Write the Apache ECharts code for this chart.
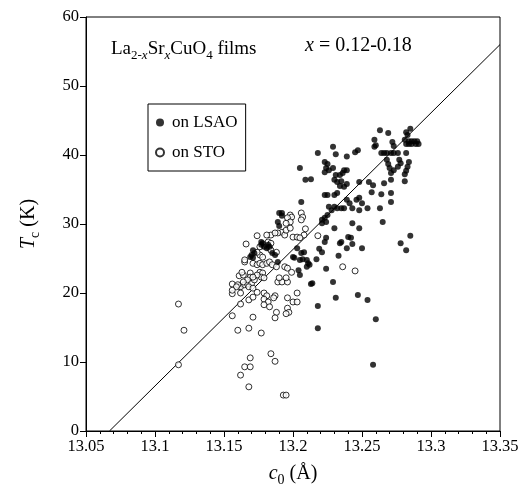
<!DOCTYPE html>
<html><head><meta charset="utf-8">
<script src="https://cdn.jsdelivr.net/npm/echarts@6/dist/echarts.min.js"></script>
<style>html,body{margin:0;padding:0;background:#fff}#c{width:522px;height:494px}</style>
</head><body><div id="c"></div>
<script>
// tick labels
var xTicks = [13.05, 13.1, 13.15, 13.2, 13.25, 13.3, 13.35];
var yTicks = [0, 10, 20, 30, 40, 50, 60];
// guide line (c0, Tc)
var fitLine = [[13.067, 0], [13.35, 56]];
// films on LSAO (c0 in Å, Tc in K)
var onLSAO = [
[13.263,43.6],[13.269,43.2],[13.282,43.3],[13.283,42.9],[13.285,43.8],[13.281,42.2],[13.284,42.0],[13.286,42.0],[13.288,42.0],[13.290,42.0],
[13.282,41.6],[13.284,41.6],[13.286,41.6],[13.289,41.6],[13.291,41.6],[13.259,42.2],[13.260,41.4],[13.272,41.9],[13.273,41.3],[13.229,41.2],
[13.231,40.1],[13.239,39.8],[13.245,40.4],[13.247,40.7],[13.259,41.2],[13.264,40.3],[13.266,40.3],[13.268,40.3],[13.271,40.3],[13.273,40.3],
[13.276,40.3],[13.282,40.3],[13.268,39.3],[13.269,38.7],[13.270,38.1],[13.271,37.4],[13.277,39.3],[13.278,38.8],[13.284,39.0],[13.283,38.3],
[13.282,37.7],[13.281,37.2],[13.276,38.3],[13.273,37.8],[13.281,36.2],[13.218,40.3],[13.205,38.1],[13.209,36.4],[13.213,36.5],[13.223,39.0],
[13.225,38.7],[13.224,38.1],[13.223,37.5],[13.226,37.8],[13.229,38.1],[13.231,37.1],[13.234,37.1],[13.236,37.4],[13.237,37.8],[13.239,37.8],
[13.230,36.4],[13.232,36.1],[13.235,36.2],[13.239,35.8],[13.234,35.5],[13.237,35.4],[13.248,36.1],[13.255,36.1],[13.258,35.6],[13.266,35.9],
[13.271,36.4],[13.257,34.6],[13.264,34.3],[13.271,34.5],[13.271,33.2],[13.223,34.2],[13.225,34.2],[13.230,34.2],[13.232,34.5],[13.239,33.5],
[13.241,33.0],[13.246,33.5],[13.248,33.8],[13.250,33.0],[13.237,32.3],[13.235,32.3],[13.232,32.3],[13.230,32.5],[13.226,32.5],[13.228,32.0],
[13.254,32.3],[13.263,32.3],[13.243,32.3],[13.248,32.0],[13.225,31.3],[13.223,30.9],[13.221,30.6],[13.265,30.3],[13.248,29.4],[13.230,29.4],
[13.221,30.1],[13.224,30.3],[13.243,30.1],[13.224,28.0],[13.223,27.4],[13.235,27.4],[13.234,27.2],[13.240,28.1],[13.242,28.0],[13.243,27.1],
[13.239,26.5],[13.250,26.5],[13.285,28.3],[13.278,27.2],[13.282,26.2],[13.206,25.8],[13.208,25.9],[13.205,24.8],[13.207,24.9],[13.210,24.8],
[13.211,24.3],[13.212,24.1],[13.210,23.8],[13.219,26.4],[13.221,25.9],[13.217,24.9],[13.233,25.4],[13.224,23.5],[13.205,22.6],[13.213,21.3],
[13.229,21.6],[13.231,19.3],[13.247,19.7],[13.254,19.0],[13.218,18.1],[13.260,16.2],[13.218,14.9],[13.258,9.6],[13.190,31.6],[13.192,31.6],
[13.192,31.2],[13.189,30.3],[13.190,29.7],[13.206,33.2],[13.177,27.4],[13.177,27.0],[13.178,27.2],[13.179,26.7],[13.181,26.5],[13.182,27.0],
[13.183,26.7],[13.171,26.2],[13.172,25.8],[13.170,25.5],[13.169,25.2],[13.171,25.1],[13.185,25.8],[13.187,25.5],[13.189,24.5],[13.200,25.2],
[13.201,25.1],[13.203,26.5],[13.204,23.3],[13.214,21.4]
];
// films on STO (c0 in Å, Tc in K)
var onSTO = [
[13.156,21.3],[13.161,21.0],[13.162,20.9],[13.165,21.2],[13.167,21.3],[13.170,21.4],[13.168,20.9],[13.171,20.7],[13.156,19.9],[13.162,20.0],
[13.168,19.0],[13.171,19.4],[13.174,20.1],[13.179,20.0],[13.181,19.6],[13.179,19.1],[13.182,18.7],[13.179,18.3],[13.183,18.0],[13.187,19.6],
[13.186,19.3],[13.189,21.6],[13.192,21.6],[13.196,21.6],[13.196,19.3],[13.200,18.7],[13.203,20.0],[13.203,18.7],[13.196,17.8],[13.197,17.2],
[13.195,17.0],[13.188,17.2],[13.187,16.4],[13.162,18.4],[13.156,16.7],[13.171,16.5],[13.160,14.6],[13.168,14.9],[13.177,14.2],[13.184,11.2],
[13.187,10.1],[13.169,10.6],[13.165,9.3],[13.169,9.3],[13.162,8.1],[13.168,6.4],[13.193,5.2],[13.195,5.2],[13.117,18.4],[13.121,14.6],
[13.117,9.6],[13.161,22.5],[13.160,21.2],[13.174,28.3],[13.166,27.1],[13.165,24.5],[13.169,22.9],[13.209,29.3],[13.208,28.4],[13.218,28.3],
[13.236,23.8],[13.245,23.2],[13.198,31.3],[13.199,31.0],[13.196,30.9],[13.198,30.3],[13.195,30.1],[13.206,31.6],[13.207,31.0],[13.206,30.6],
[13.192,28.8],[13.194,28.4],[13.189,28.7],[13.184,28.4],[13.187,28.7],[13.195,29.1],[13.198,29.4],[13.200,28.1],[13.203,28.1],[13.205,28.0],
[13.183,26.5],[13.184,26.2],[13.188,25.9],[13.176,25.5],[13.178,25.2],[13.165,24.8],[13.171,24.3],[13.174,24.1],[13.176,24.3],[13.178,24.1],
[13.181,24.3],[13.183,24.5],[13.185,24.1],[13.188,23.8],[13.176,23.0],[13.178,22.9],[13.177,22.3],[13.179,22.2],[13.174,22.6],[13.194,23.8],
[13.196,23.6],[13.169,22.3],[13.167,21.9],[13.172,21.9],[13.190,22.2],[13.195,22.2],[13.199,23.0],[13.164,22.6],[13.181,28.4],[13.182,27.4],
[13.184,27.2],[13.176,26.7],[13.174,25.9],[13.163,23.0],[13.164,21.6],[13.171,22.3],[13.159,20.9],[13.156,20.4]
];

var serif = '"Liberation Serif","DejaVu Serif",serif';
var chart = echarts.init(document.getElementById('c'), null, {renderer: 'canvas'});
chart.setOption({
  animation: false,
  backgroundColor: '#fff',
  textStyle: {fontFamily: serif, color: '#000'},
  grid: {left: 86, right: 22, top: 17, bottom: 63, show: true, borderColor: '#000', borderWidth: 1},
  title: [{
    left: 106, top: 31,
    text: 'La{s|2-}{si|x}Sr{si|x}CuO{s|4} films',
    textStyle: {fontFamily: serif, fontSize: 19, fontWeight: 'normal', color: '#000',
      rich: {
        s: {fontFamily: serif, fontSize: 13, color: '#000', padding: [13, 0, 0, 0]},
        si: {fontFamily: serif, fontSize: 13, fontStyle: 'italic', color: '#000', padding: [13, 0, 0, 0]}
      }}
  }, {
    left: 300, top: 31,
    text: '{i|x} = 0.12-0.18',
    textStyle: {fontFamily: serif, fontSize: 20, fontWeight: 'normal', color: '#000',
      rich: {i: {fontFamily: serif, fontSize: 20, fontStyle: 'italic', color: '#000'}}}
  }],
  legend: {
    left: 148, top: 104, orient: 'vertical',
    data: ['on LSAO', 'on STO'],
    borderColor: '#000', borderWidth: 1, padding: [10, 8, 10, 7],
    itemGap: 13, itemWidth: 8, itemHeight: 8,
    textStyle: {fontFamily: serif, fontSize: 17, color: '#000', padding: [0, 0, 0, 3]}
  },
  xAxis: {
    type: 'value', min: xTicks[0], max: xTicks[xTicks.length - 1], interval: 0.05,
    name: '{i|c}{s|0} (Å)', nameLocation: 'middle', nameGap: 30,
    nameTextStyle: {fontFamily: serif, fontSize: 20, color: '#000',
      rich: {i: {fontFamily: serif, fontSize: 20, fontStyle: 'italic', color: '#000'},
             s: {fontFamily: serif, fontSize: 14, color: '#000', padding: [12, 0, 0, 0]}}},
    axisLine: {show: true, lineStyle: {color: '#000', width: 1}},
    axisTick: {show: true, length: 6, lineStyle: {color: '#000'}},
    minorTick: {show: true, splitNumber: 5, length: 3, lineStyle: {color: '#000'}},
    splitLine: {show: false},
    axisLabel: {fontFamily: serif, fontSize: 16.5, color: '#000', margin: 7,
      formatter: function (v) { return String(+v.toFixed(2)); }}
  },
  yAxis: {
    type: 'value', min: yTicks[0], max: yTicks[yTicks.length - 1], interval: 10,
    name: '{i|T}{s|c} (K)', nameLocation: 'middle', nameGap: 44, nameRotate: 90,
    nameTextStyle: {fontFamily: serif, fontSize: 20, color: '#000',
      rich: {i: {fontFamily: serif, fontSize: 20, fontStyle: 'italic', color: '#000'},
             s: {fontFamily: serif, fontSize: 14, color: '#000', padding: [12, 0, 0, 0]}}},
    axisLine: {show: true, lineStyle: {color: '#000', width: 1}},
    axisTick: {show: true, length: 6, lineStyle: {color: '#000'}},
    splitLine: {show: false},
    axisLabel: {fontFamily: serif, fontSize: 16.5, color: '#000', margin: 7}
  },
  series: [{
    name: 'fit', type: 'line', data: fitLine, symbol: 'none', silent: true,
    lineStyle: {color: '#000', width: 1}, z: 1
  }, {
    name: 'on LSAO', type: 'scatter', data: onLSAO, symbol: 'circle', symbolSize: 6,
    itemStyle: {color: '#000', borderColor: '#000', borderWidth: 0}, z: 3
  }, {
    name: 'on STO', type: 'scatter', data: onSTO, symbol: 'circle', symbolSize: 6,
    itemStyle: {color: '#fff', borderColor: '#000', borderWidth: 1}, z: 2
  }]
});
</script></body></html>
